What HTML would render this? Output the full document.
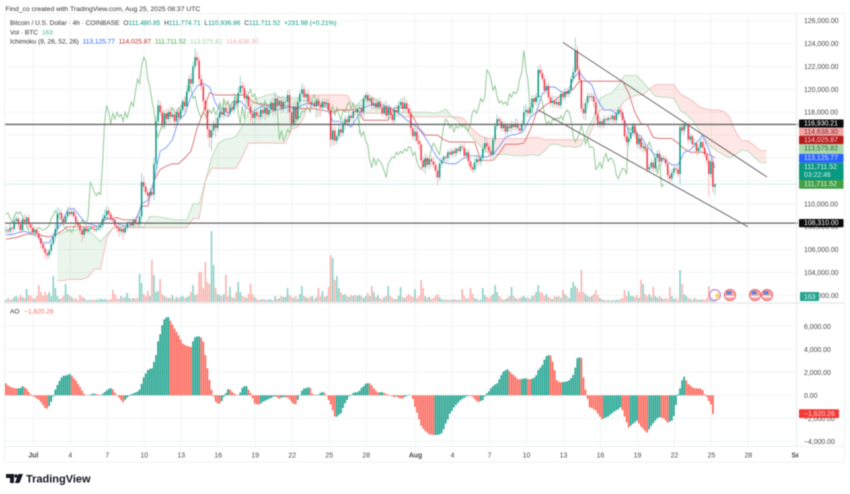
<!DOCTYPE html>
<html lang="en">
<head>
<meta charset="utf-8">
<title>BTC/USD 4h chart</title>
<style>
html,body{margin:0;padding:0;background:#fff;width:850px;height:494px;overflow:hidden}
svg{display:block;filter:blur(.4px)}
text{font-family:"Liberation Sans",sans-serif;font-size:6.55px;fill:#333}
.ax{fill:#4a4a4a;font-size:6.9px}
.lb{font-size:6.9px}
</style>
</head>
<body>
<svg id="chart" width="850" height="494" viewBox="0 0 850 494" xmlns="http://www.w3.org/2000/svg">
  <defs><clipPath id="axisClip"><rect x="0" y="0" width="798.5" height="494"/></clipPath></defs>
  <rect x="4.5" y="13.5" width="840" height="448.5" fill="#fff" stroke="#eef3f2"/>
  <g id="grid"></g>
  <g id="cloud"></g>
  <g id="volume"></g>
  <g id="lines"></g>
  <g id="candles"></g>
  <g id="drawings"></g>
  <g id="ao"></g>
  <g id="axes"></g>

  <line x1="5" x2="844" y1="303" y2="303" stroke="#e4e6ea" stroke-width="1.2"/>
  <line x1="796.5" x2="796.5" y1="14" y2="446.5" stroke="#e8ebee"/>
  <line x1="5" x2="844" y1="446.5" y2="446.5" stroke="#eef0f2"/>

  <text x="5.5" y="11" style="font-size:6.8px">Find_co created with TradingView.com, Aug 25, 2025 08:37 UTC</text>
  <text x="10" y="25">Bitcoin / U.S. Dollar · 4h · COINBASE <tspan dx="2">O</tspan><tspan fill="#089981">111,480.85</tspan> <tspan dx="2">H</tspan><tspan fill="#089981">111,774.71</tspan> <tspan dx="2">L</tspan><tspan fill="#089981">110,936.86</tspan> <tspan dx="2">C</tspan><tspan fill="#089981">111,711.52</tspan> <tspan dx="2" fill="#089981">+231.98 (+0.21%)</tspan></text>
  <text x="10" y="34.5">Vol · BTC <tspan dx="2" fill="#3fb5a0">163</tspan></text>
  <text x="10" y="43.5">Ichimoku (9, 26, 52, 26) <tspan dx="2" fill="#2962ff">113,125.77</tspan> <tspan dx="2" fill="#c62828">114,025.87</tspan> <tspan dx="2" fill="#43a047">111,711.52</tspan> <tspan dx="2" fill="#a5d6a7">113,575.82</tspan> <tspan dx="2" fill="#f5a9a9">114,638.30</tspan></text>
  <text x="10" y="313.5">AO <tspan dx="3" fill="#f7675e">−1,620.26</tspan></text>

  <g>
    <circle cx="715" cy="295" r="5.4" fill="#fff" stroke="#b56fe0" stroke-width="1"/>
    <text x="713.4" y="298" style="font-size:7px;fill:#9c4fd0">⚡</text>
    <circle cx="730" cy="295" r="5.6" fill="#f7a6a6" stroke="#f26d6d"/>
    <rect x="726.5" y="291" width="5" height="3.5" fill="#5a86e0"/>
    <rect x="725.5" y="296" width="9" height="1.3" fill="#fff"/>
    <circle cx="755" cy="295" r="5.6" fill="#f7a6a6" stroke="#f26d6d"/>
    <rect x="751.5" y="291" width="5" height="3.5" fill="#5a86e0"/>
    <rect x="750.5" y="296" width="9" height="1.3" fill="#fff"/>
    <circle cx="767" cy="295" r="5.6" fill="#f7a6a6" stroke="#f26d6d"/>
    <rect x="763.5" y="291" width="5" height="3.5" fill="#5a86e0"/>
    <rect x="762.5" y="296" width="9" height="1.3" fill="#fff"/>
  </g>

  <g>
    <path d="M6 474h8v9h-4v-5H6z M18.5 474h4.5l-3.6 9h-4.5z" fill="#131722"/>
    <circle cx="16" cy="476" r="1.7" fill="#131722"/>
    <text x="26" y="482.5" style="font-size:11px;font-weight:700;fill:#131722">TradingView</text>
  </g>
</svg>

<script>
const closes=[107.7,107.6,107.9,107.8,108.5,108.7,108.2,107.7,108.6,108.4,108.8,108.2,
107.9,107.5,107.7,107.4,107.0,106.5,106.1,105.7,105.5,105.9,106.5,107.1,
107.8,109.1,109.2,108.7,108.4,108.9,109.3,109.1,109.3,108.9,108.4,108.1,
107.7,107.3,107.9,107.6,107.8,107.9,107.8,107.7,107.8,107.9,108.1,108.7,
109.0,109.4,109.1,108.7,108.6,108.1,107.9,107.6,107.8,107.5,107.9,108.3,
108.4,108.1,108.6,108.3,108.2,108.9,111.9,111.5,111.0,110.7,111.0,110.8,
113.5,117.2,118.6,118.0,117.0,117.9,117.4,118.0,117.6,117.8,117.2,118.0,
117.5,118.2,118.9,118.5,119.8,120.9,120.5,122.0,122.8,122.5,120.9,120.3,
119.0,118.2,116.5,115.8,116.4,117.0,116.6,117.5,118.0,117.8,118.4,118.0,
117.9,118.4,118.2,119.0,118.8,119.7,120.3,120.1,119.2,119.4,118.5,117.9,
117.5,118.0,117.7,117.6,118.2,117.9,118.4,117.8,118.2,118.8,118.1,119.2,
118.6,119.0,118.3,118.9,118.9,119.5,118.0,117.0,118.5,117.4,118.9,119.6,
120.0,119.3,119.6,118.9,118.7,118.8,118.5,119.0,118.6,118.4,118.9,118.7,
118.8,118.2,115.6,116.4,115.5,115.9,116.5,116.2,117.0,117.4,117.1,117.7,
117.5,118.1,118.0,118.3,118.4,118.0,119.2,119.5,119.0,119.2,118.6,118.8,
118.4,118.9,118.4,117.9,118.5,117.7,118.4,117.8,117.3,118.2,118.0,118.6,
118.9,118.3,118.8,118.3,117.9,116.6,115.9,116.3,115.5,115.2,113.8,113.2,
114.0,113.4,113.9,113.7,113.4,112.9,112.3,113.5,113.8,114.1,114.0,114.5,
114.3,114.6,114.4,114.8,114.6,115.0,114.9,114.2,114.5,113.7,113.2,113.0,
113.6,113.9,113.7,114.0,114.8,115.3,115.0,114.6,114.3,115.6,116.8,117.4,
117.2,116.6,116.9,116.3,116.8,116.6,116.9,116.7,117.0,116.6,116.4,117.0,
118.0,118.2,117.9,118.4,119.2,118.9,119.3,121.7,121.4,120.9,119.9,120.3,
119.3,118.8,119.0,118.7,118.9,118.6,119.6,119.3,119.8,119.6,119.9,120.9,
121.5,123.4,121.7,120.8,118.3,117.9,118.8,119.4,119.3,119.4,118.9,117.8,
116.9,117.2,116.9,117.4,117.3,117.5,117.4,117.7,117.3,117.9,118.2,118.0,
117.3,115.9,115.4,115.7,116.2,116.8,116.2,115.2,115.7,114.9,115.0,114.8,
113.0,113.2,113.6,113.1,114.0,114.4,113.7,114.0,113.9,113.5,112.5,112.2,
112.7,113.1,113.0,112.6,116.7,116.4,116.9,116.9,115.6,115.9,115.2,115.3,
114.6,114.9,115.4,114.9,114.3,113.8,112.6,113.7,111.48,111.71];
const upperWicks=[3,2,4,2,5,3,2,4,3,5,
2,3,2,4,3,2,3,2,2,4,
3,2,3,4,5,6,4,3,2,3,
4,5,3,2,3,2,2,3,1,2,
3,2,2,1,2,3,2,4,5,4,
3,2,3,2,2,3,2,3,2,2,
3,2,2,2,3,4,8,5,3,2,
4,3,6,5,5,4,6,3,4,3,
5,2,4,3,5,4,3,5,6,3,
5,4,8,5,3,4,5,3,6,4,
5,3,6,4,8,3,5,4,9,3,
5,7,4,5,9,4,3,5,4,5,
3,4,2,3,5,3,4,3,5,3,
5,6,3,4,4,5,3,4,5,3,
4,6,4,3,5,4,3,4,5,4,
3,2,4,3,3,3,4,4,6,3,
4,3,5,3,4,3,3,4,3,2,
5,4,3,3,3,2,3,4,3,5,
4,3,4,3,4,5,3,2,4,3,
5,4,3,4,6,3,4,5,3,4,
4,5,3,3,4,3,2,3,4,3,
4,3,3,2,2,2,3,2,3,2,
2,3,2,4,3,3,4,3,4,4,
3,3,4,6,5,3,3,3,3,4,
2,3,3,3,2,3,4,3,5,4,
3,3,6,5,3,4,3,3,4,3,
5,3,3,3,4,3,5,4,5,4,
3,3,3,3,3,3,4,11,4,3,
3,5,4,3,3,3,3,4,3,3,
2,3,2,2,3,2,3,3,3,3,
3,2,4,4,3,3,3,2,4,3,
3,3,3,3,3,2,3,3,3,3,
3,3,4,5,3,2,2,3,2,3,
2,2,3,3,2,4,2,3,3,3,
5,3,4,3,2,1];
const lowerWicks=[3,2,3,4,2,3,4,3,2,3,
4,3,2,3,4,2,3,4,3,5,
4,3,3,2,4,3,2,2,3,2,
3,2,2,3,2,3,4,6,3,2,
2,2,1,2,2,2,3,2,3,2,
3,2,3,3,4,5,3,6,2,2,
3,2,2,3,2,3,6,4,3,3,
2,2,5,6,4,3,5,3,4,3,
5,2,6,3,4,2,3,5,3,2,
4,3,3,4,5,4,6,8,8,9,
12,4,8,3,3,3,4,3,3,3,
2,3,4,3,3,5,3,4,3,7,
5,6,3,4,3,4,6,3,2,3,
4,3,5,3,4,3,6,10,9,4,
3,6,2,5,3,4,4,3,5,4,
3,10,10,8,3,3,3,3,7,5,
4,3,3,4,3,5,3,2,3,4,
3,3,22,4,5,3,3,2,4,3,
3,3,2,3,2,3,3,4,3,3,
4,5,3,4,3,4,3,6,3,4,
3,5,3,4,6,3,4,5,3,6,
7,3,4,3,4,3,3,2,3,3,
2,3,3,3,3,4,3,3,3,5,
4,4,3,4,3,5,4,3,3,3,
4,3,3,3,3,3,4,3,3,3,
3,3,3,4,3,3,4,3,3,4,
3,3,4,3,3,3,4,3,3,3,
3,3,3,3,3,3,3,4,5,3,
3,5,6,5,4,3,5,4,3,3,
3,3,4,3,3,3,3,3,3,4,
4,3,3,3,3,3,4,3,4,3,
4,3,3,3,3,3,3,4,4,4,
3,3,4,3,3,3,3,3,9,3,
4,3,4,3,3,3,4,3,4,3,
3,4,20,3,5,7];
const volumes=[100,200,100,150,250,300,200,350,250,200,650,350,300,200,150,300,850,500,300,500,350,500,300,1300,700,300,150,200,300,900,400,300,250,150,200,100,
350,250,200,100,100,100,120,100,140,100,180,130,150,120,100,150,600,400,200,150,300,200,250,450,200,150,200,180,200,1400,950,400,300,550,300,2100,
1350,500,550,1150,400,300,250,200,200,350,150,250,200,250,300,200,250,300,500,850,350,400,1500,1500,700,2000,1000,900,3550,1850,700,400,350,300,400,1350,
300,750,250,200,500,1000,500,300,250,200,400,900,400,250,150,100,120,150,120,100,150,120,100,300,150,200,300,250,250,700,350,250,200,300,150,400,
800,300,250,200,250,300,150,250,700,300,550,250,300,750,2350,2200,1100,1300,700,500,350,400,300,250,350,300,350,300,350,300,200,300,450,300,800,500,
250,350,200,150,250,300,800,300,200,150,150,300,750,250,200,300,400,300,250,650,200,300,1100,700,300,200,250,150,200,300,400,250,150,100,150,100,
100,120,150,100,120,100,650,300,150,200,700,400,200,150,100,120,700,350,250,200,300,400,850,500,300,200,100,150,200,300,750,300,200,150,200,250,
300,200,250,150,300,350,500,850,500,450,300,400,250,200,150,300,250,300,200,600,400,300,200,700,1000,800,700,500,1600,500,400,300,250,300,400,600,
350,200,150,100,80,100,60,100,80,120,100,150,200,600,300,550,300,300,250,350,200,1100,900,400,300,400,250,750,300,200,300,200,150,200,150,750,
300,150,200,100,1600,900,400,300,200,150,100,200,150,100,120,150,100,200,800,250,150,163];
const aoValues=[1040,850,750,680,620,600,600,640,790,700,560,300,100,-60,-150,-280,-400,-600,-840,-1100,-1160,-930,-560,-100,500,900,1250,1550,1700,1720,1780,1850,1720,1480,1300,1000,
720,400,150,30,-30,60,130,150,100,80,30,130,280,420,560,620,520,230,40,-200,-420,-600,-400,-200,-60,100,170,240,330,500,1000,1560,1900,2200,2300,2350,
2900,3500,4700,5300,6100,6600,6780,6800,6480,6150,5800,5500,5200,4850,4500,4380,4300,4250,4200,4700,5040,5120,5120,5000,4670,3500,2350,1330,500,-100,-550,-700,-720,-500,-150,200,
520,500,300,170,60,30,250,650,780,810,500,200,-250,-700,-780,-800,-720,-560,-480,-400,-300,-240,-130,-100,-200,-300,-200,-170,-180,-190,-350,-600,-750,-780,-400,-50,
400,600,620,700,650,150,50,50,60,200,290,200,-50,-400,-800,-1300,-1850,-1850,-1700,-1570,-1100,-700,-400,-100,50,200,260,270,400,650,800,1000,1050,1040,
850,600,400,250,260,280,200,120,60,-30,-100,-160,-100,-230,-260,-280,-150,-70,40,-30,-300,-1000,-1500,-2090,-2650,-2900,-3100,-3250,-3390,-3420,-3450,-3450,
-3440,-3400,-3300,-2950,-2450,-2100,-1600,-1350,-1050,-840,-650,-450,-320,-220,-100,-60,-70,-110,-300,-500,-580,-500,-420,-100,170,350,620,800,950,1040,1400,1750,
2060,2170,2260,2100,1900,1770,1600,1400,1390,1420,1460,1480,1420,1390,1450,1530,1750,2200,2400,2640,3100,3400,3500,3450,2930,2200,1330,1180,1130,1150,1180,1220,1300,1500,1770,2400,
3220,3300,3250,1560,500,-300,-1040,-1100,-1200,-1330,-1600,-1850,-2090,-2000,-1920,-1850,-1700,-1550,-1420,-1300,-1200,-1040,-1300,-1850,-2350,-2810,-2650,-2480,-2350,-2200,-2450,-2720,-2900,-3100,-3250,-2950,
-2650,-2430,-2200,-2000,-1910,-1950,-2000,-2200,-2380,-2300,-2200,-1800,-840,100,600,1300,1620,1300,1000,850,700,620,600,590,580,450,100,-150,-500,-800,-1620];
const tenkan=[107.3,107.3,107.5,107.6,107.4,107.2,106.6,106.6,107.5,108.3,109.5,109.6,108.9,108.3,108.2,108.0,108.8,108.7,108.3,108.1,108.1,108.4,110.0,110.3,112.0,114.6,114.9,115.6,117.3,117.8,119.4,120.3,120.5,120.2,118.8,117.9,117.6,118.6,119.0,118.4,118.0,118.4,118.6,118.4,118.2,118.3,118.5,118.2,118.6,118.8,118.6,118.6,118.5,117.2,117.2,117.0,116.7,117.6,118.4,118.6,118.6,118.6,118.5,118.2,117.8,117.3,117.0,116.5,115.8,114.9,114.0,113.6,113.5,113.5,113.9,114.2,114.2,114.1,114.1,114.3,115.0,115.8,116.0,116.1,116.4,117.5,118.0,119.6,120.2,120.2,119.8,119.6,120.9,121.5,120.8,120.4,119.0,118.2,118.2,117.9,117.9,116.2,116.2,115.9,115.0,114.4,114.1,113.8,113.4,113.4,114.5,114.7,115.3,116.0,114.8,113.13];
const kijun=[106.9,107.0,107.1,107.3,107.4,107.4,107.2,107.1,107.3,107.6,108.0,108.0,108.0,108.0,108.0,108.0,108.6,108.7,108.8,108.6,108.6,108.6,109.8,109.8,112.0,113.0,113.3,113.5,113.5,114.0,114.6,116.6,118.0,119.7,119.5,119.5,119.5,119.5,119.5,119.5,118.9,118.7,118.7,118.6,118.6,118.6,118.5,118.4,118.3,118.3,118.3,118.2,118.1,118.0,118.2,118.2,118.2,118.2,117.3,117.3,117.3,117.3,117.3,118.4,118.4,118.4,117.6,116.6,116.0,116.0,116.0,115.6,115.4,115.4,115.4,115.4,115.4,113.8,113.8,113.8,114.4,115.2,115.2,115.2,115.3,116.4,117.9,118.4,118.8,119.0,119.5,119.8,120.0,120.7,120.7,120.7,120.7,120.7,120.7,120.7,120.7,119.7,118.0,117.0,116.9,115.8,115.7,115.7,115.7,115.3,114.8,114.5,114.5,114.5,114.3,114.03];
const spanA=[107.3,107.5,107.7,107.7,107.7,107.7,107.2,106.7,107.3,107.9,108.0,108.0,108.0,108.0,108.0,108.9,108.9,108.8,108.7,108.6,108.6,108.6,110.0,110.0,112.0,114.0,115.2,115.6,115.7,115.9,116.8,118.0,119.2,119.3,119.5,119.6,119.3,119.3,119.2,119.3,119.0,119.0,118.8,118.6,118.4,118.2,118.2,118.0,118.3,118.9,119.3,119.3,119.0,118.6,118.4,118.0,118.0,118.0,118.0,118.0,118.0,117.9,118.0,118.3,117.6,117.2,116.7,116.0,115.4,114.8,114.4,114.3,114.3,114.3,114.2,114.2,114.2,114.3,114.2,114.6,115.2,115.2,115.0,115.0,114.9,115.1,116.5,117.6,119.2,119.5,119.7,120.4,121.2,121.2,121.2,120.6,120.0,119.4,119.3,119.3,119.2,118.2,117.8,117.3,116.5,115.6,115.0,114.6,114.3,114.0,114.3,114.7,114.6,114.1,113.6,113.58];
const spanB=[103.3,103.3,103.4,103.4,103.4,103.6,104.3,104.3,107.0,107.9,107.9,107.9,107.9,107.9,107.9,107.9,107.9,107.9,107.9,107.9,107.9,107.9,108.7,108.7,112.0,113.1,113.1,113.1,113.1,113.1,114.1,115.3,115.3,115.3,115.3,115.3,115.3,115.3,116.5,116.7,117.6,119.5,119.5,119.5,119.5,119.5,119.5,119.5,118.6,117.9,117.9,117.9,117.9,117.9,118.2,118.0,117.6,117.6,117.6,117.6,117.6,117.6,117.6,117.6,117.6,117.6,117.4,116.7,116.2,115.8,115.7,115.7,115.7,115.7,115.7,115.7,115.7,115.8,115.8,115.6,115.6,115.6,115.6,115.6,115.6,115.6,115.6,116.9,118.2,118.2,118.2,118.2,119.0,119.3,119.5,119.5,120.0,120.4,120.4,120.4,120.4,119.6,119.3,119.0,118.5,118.3,118.2,118.2,118.1,117.6,116.3,115.5,115.5,115.1,114.64,114.64];

const priceTicks=[126000,124000,122000,120000,118000,116000,114000,112000,110000,108000,106000,104000,102000];
const aoTicks=[6000,4000,2000,0,-2000,-4000];
const timeLabels=['Jul','4','7','10','13','16','19','22','25','28','Aug','4','7','10','13','16','19','22','25','28','Sep'];
const timeDays=[0,3,6,9,12,15,18,21,24,27,31,34,37,40,43,46,49,52,55,58,62];
const horizontalLevels=[116930.21,108310];
const currentPrice=111711.52;
const upperChannelBars=[271,370.3];
const upperChannelPrices=[124100,112340];
const lowerChannelBars=[258.9,361];
const lowerChannelPrices=[118200,108000];

const NS='http://www.w3.org/2000/svg';
const CANDLE_STEP=2.055,LINE_STEP=3,SPAN_START=25,CHIKOU_SHIFT=25;
const candleX=i=>6+CANDLE_STEP*i;
const dayX=d=>33.3+12.33*d;
const priceY=p=>20.6+(126000-p)*0.01145;
const kY=k=>priceY(k*1000);
const volH=v=>v/50;
const aoY=v=>395.3-v*0.0115;
const VOL_BASE=302;
function el(parent,tag,attrs){
  const e=document.createElementNS(NS,tag);
  for(const k in attrs)e.setAttribute(k,attrs[k]);
  document.getElementById(parent).appendChild(e);
  return e;
}
function pts(vals,xf,yf){return vals.map((v,i)=>xf(i).toFixed(2)+','+yf(v).toFixed(2)).join(' ');}

/* grid */
priceTicks.forEach(p=>{
  const l=el('grid','line',{x1:5,x2:796,y1:priceY(p),y2:priceY(p),stroke:'#f3f4f6'});
  
  
});
aoTicks.forEach(v=>{
  const l=el('grid','line',{x1:5,x2:796,y1:aoY(v),y2:aoY(v),stroke:'#f3f4f6'});
  
  
});
timeDays.slice(0,-1).forEach(d=>{
  const l=el('grid','line',{x1:dayX(d),x2:dayX(d),y1:14,y2:446,stroke:'#f3f4f6'});
  
  
});

/* cloud */
const spanX=i=>candleX(SPAN_START+i*LINE_STEP);
for(let i=0;i<spanA.length-1;i++){
  const up=spanA[i]+spanA[i+1]>=spanB[i]+spanB[i+1];
  const q=el('cloud','polygon',{points:[spanX(i)+','+kY(spanA[i]),spanX(i+1)+','+kY(spanA[i+1]),spanX(i+1)+','+kY(spanB[i+1]),spanX(i)+','+kY(spanB[i])].join(' '),fill:up?'#43a047':'#f44336','fill-opacity':up?.11:.13});
  
  
}
const spanALine=el('cloud','polyline',{points:pts(spanA,spanX,kY),fill:'none',stroke:'#b6dcb8','stroke-width':.9});


const spanBLine=el('cloud','polyline',{points:pts(spanB,spanX,kY),fill:'none',stroke:'#f6b9b9','stroke-width':.9});



/* volume */
volumes.forEach((v,i)=>{
  const open=i?closes[i-1]:closes[i];
  const h=volH(v);
  const r=el('volume','rect',{x:candleX(i)-.8,y:VOL_BASE-h,width:1.6,height:h,fill:closes[i]>=open?'#8ed2c6':'#f9b4b1'});
  
  
});

/* ichimoku lines */
const currentLine=el('lines','line',{x1:5,x2:796,y1:priceY(currentPrice),y2:priceY(currentPrice),stroke:'#7fd0c4','stroke-width':.8,'stroke-dasharray':'1 1.5'});


const chikou=closes.slice(CHIKOU_SHIFT);
const chikouLine=el('lines','polyline',{points:pts(chikou,candleX,kY),fill:'none',stroke:'#8fc892','stroke-width':.95});


const lineX=i=>candleX(i*LINE_STEP);
const kijunLine=el('lines','polyline',{points:pts(kijun,lineX,kY),fill:'none',stroke:'#dd7777','stroke-width':.95});


const tenkanLine=el('lines','polyline',{points:pts(tenkan,lineX,kY),fill:'none',stroke:'#7d9dff','stroke-width':.95});



/* candles */
closes.forEach((c,i)=>{
  const o=i?closes[i-1]:c;
  const up=c>=o;
  const col=up?'#089981':'#f23645';
  const hi=Math.max(o,c)+upperWicks[i]/10;
  const lo=Math.min(o,c)-lowerWicks[i]/10;
  const x=candleX(i);
  const w=el('candles','line',{x1:x,x2:x,y1:kY(hi),y2:kY(lo),stroke:up?'#7cc9bc':'#f8a0a5','stroke-width':.7});
  
  
  const b=el('candles','rect',{x:x-.75,y:kY(Math.max(o,c)),width:1.5,height:Math.max(.7,Math.abs(kY(o)-kY(c))),fill:col});
  
  
});

/* drawn lines */
horizontalLevels.forEach(p=>{
  const l=el('drawings','line',{x1:5,x2:798,y1:priceY(p),y2:priceY(p),stroke:'#666','stroke-width':1.3});
  
  
});
const upperLine=el('drawings','line',{x1:candleX(upperChannelBars[0]),y1:priceY(upperChannelPrices[0]),x2:candleX(upperChannelBars[1]),y2:priceY(upperChannelPrices[1]),stroke:'#6a6a6a','stroke-width':1});


const lowerLine=el('drawings','line',{x1:candleX(lowerChannelBars[0]),y1:priceY(lowerChannelPrices[0]),x2:candleX(lowerChannelBars[1]),y2:priceY(lowerChannelPrices[1]),stroke:'#6a6a6a','stroke-width':1});



/* AO */
aoValues.forEach((v,i)=>{
  const rising=i===0?false:v>=aoValues[i-1];
  const y0=aoY(0),y1=aoY(v);
  const r=el('ao','rect',{x:candleX(i)-.85,y:Math.min(y0,y1),width:1.7,height:Math.max(.4,Math.abs(y1-y0)),fill:rising?'#26a591':'#fb6a5e'});
  
  
});

/* axis labels */
priceTicks.forEach(p=>{
  const t=el('axes','text',{x:804,y:priceY(p)+2.5,class:'ax'});
  t.textContent=p.toLocaleString('en-US',{minimumFractionDigits:2});
  
  
});
aoTicks.forEach(v=>{
  const t=el('axes','text',{x:804,y:aoY(v)+2.5,class:'ax'});
  t.textContent=(v<0?'−':'')+Math.abs(v).toLocaleString('en-US',{minimumFractionDigits:2});
  
  
});
timeLabels.forEach((s,i)=>{
  const t=el('axes','text',{x:dayX(timeDays[i]),y:457.5,'text-anchor':'middle',class:'ax','clip-path':'url(#axisClip)'});
  t.textContent=s;
  t.style.fontWeight=(s==='Jul'||s==='Aug'||s==='Sep')?'700':'400';
  
  
});

/* badges */
function badge(y,h,fill,color,label){
  const r=el('axes','rect',{x:799,y:y,width:44.5,height:h,fill:fill,rx:.8});
  
  
  const t=el('axes','text',{x:804,y:y+6.2,class:'lb'});
  t.textContent=label;
  t.style.fill=color;
  
  
}
badge(119.5,8.3,'#0b0b0b','#fff','116,930.21');
badge(127.8,8,'#f2a6a6','#8a2b2b','114,638.30');
badge(135.8,8.5,'#b71c1c','#f6cfcf','114,025.87');
badge(144.3,9.7,'#a9d8ab','#2d6a30','113,575.82');
badge(154,8.7,'#2962ff','#dfe7ff','113,125.77');
badge(162.7,17.3,'#089981','#e3f5f1','111,711.52');
badge(180,8.7,'#43a047','#e6f4e6','111,711.52');
badge(219,8.3,'#0b0b0b','#fff','108,310.00');
const countdown=el('axes','text',{x:804,y:177,class:'lb'});
countdown.textContent='03:22:46';
countdown.style.fill='#cfeee8';


const volBox=el('axes','rect',{x:800,y:292,width:19,height:9,fill:'#26a591',rx:.8});


const volText=el('axes','text',{x:804,y:299,class:'lb'});
volText.textContent='163';
volText.style.fill='#d7f0eb';


const aoBox=el('axes','rect',{x:799,y:409.3,width:40,height:8.7,fill:'#f23a36',rx:.8});


const aoText=el('axes','text',{x:804,y:415.8,class:'lb'});
aoText.textContent='−1,620.26';
aoText.style.fill='#ffd9d6';


</script>
</body>
</html>
